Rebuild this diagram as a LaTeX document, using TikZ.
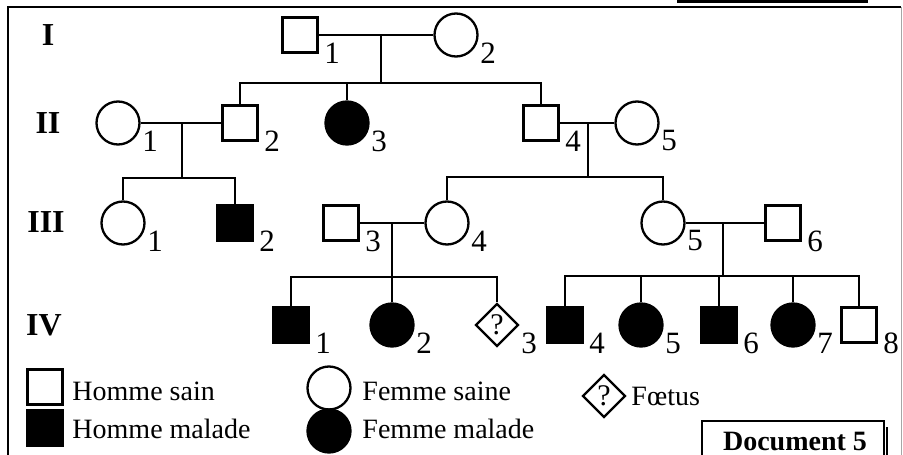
\documentclass[tikz,border=0pt]{standalone}
\usepackage{fontspec}
\setmainfont{Liberation Serif}
\usetikzlibrary{shapes.geometric,positioning,calc}

\tikzset{
    male/.style={draw, rectangle, minimum size=35pt, inner sep=0pt},
    female/.style={draw, circle, minimum size=43pt, inner sep=0pt},
    fetus/.style={draw, diamond, minimum size=43pt, inner sep=0pt, font=\fontsize{30}{32}\selectfont},
    ill/.style={fill=black},
    num/.style={xshift=32pt, yshift=-18pt, font=\fontsize{31}{33}\selectfont},
    gen/.style={font=\fontsize{32}{34}\selectfont\bfseries},
}

\begin{document}
\begin{tikzpicture}[x=1pt, y=-1pt, line width=2.3pt, font=\fontsize{28}{30}\selectfont]
    \useasboundingbox (0,0) rectangle (903,455);
    % Frame
    \fill (677,0) rectangle (868,3);
    \draw[line width=2.5pt] (8,455) -- (8,7) -- (901,7);
    \draw[line width=0.8pt, black!35] (901,7) -- (901,455);

    % Generations
    \node[gen] (gI) at (48,35) {I};
    \node[gen] (gII) at (48,123) {II};
    \node[gen] (gIII) at (46,222) {III};
    \node[gen] (gIV) at (44,325) {IV};

    % I
    \node[male, label={[num]center:1}] (I1) at (300,35) {};
    \node[female, label={[num]center:2}] (I2) at (456,35) {};
    \draw (I1) -- (I2);
    \coordinate (c1) at (381,35); \coordinate (s1) at (381,83);

    % II
    \node[female, label={[num]center:1}] (II1) at (118,123) {};
    \node[male, label={[num]center:2}] (II2) at (240,123) {};
    \node[female, ill, label={[num]center:3}] (II3) at (347,123) {};
    \node[male, label={[num]center:4}] (II4) at (541,123) {};
    \node[female, label={[num]center:5}] (II5) at (637,123) {};
    \draw (c1) -- (s1);
    \draw (II2.north) |- (s1) -| (II4.north);
    \draw (II3) -- (II3 |- s1);
    \draw (II1) -- (II2); \draw (II4) -- (II5);
    \coordinate (c2) at (182,123); \coordinate (s2) at (182,178);
    \coordinate (c3) at (588,123); \coordinate (s3) at (588,177);

    % III
    \node[female, label={[num]center:1}] (III1) at (123,223) {};
    \node[male, ill, label={[num]center:2}] (III2) at (235,223) {};
    \node[male, label={[num]center:3}] (III3) at (341,223) {};
    \node[female, label={[num]center:4}] (III4) at (447,223) {};
    \node[female, label={[num]center:5}] (III5) at (663,223) {};
    \node[male, label={[num]center:6}] (III6) at (783,223) {};
    \draw (c2) -- (s2); \draw (III1.north) |- (s2) -| (III2.north);
    \draw (c3) -- (s3); \draw (III4.north) |- (s3) -| (III5.north);
    \draw (III3) -- (III4); \draw (III5) -- (III6);
    \coordinate (c4) at (392,223); \coordinate (s4) at (392,277);
    \coordinate (c5) at (723,223); \coordinate (s5) at (723,276);

    % IV
    \node[male, ill, label={[num]center:1}] (IV1) at (291,325) {};
    \node[female, ill, label={[num]center:2}] (IV2) at (392,325) {};
    \node[fetus, label={[num]center:3}] (IV3) at (497,325) {?};
    \node[male, ill, label={[num]center:4}] (IV4) at (565,325) {};
    \node[female, ill, label={[num]center:5}] (IV5) at (641,325) {};
    \node[male, ill, label={[num]center:6}] (IV6) at (719,325) {};
    \node[female, ill, label={[num]center:7}] (IV7) at (793,325) {};
    \node[male, label={[num]center:8}] (IV8) at (859,325) {};
    \draw (c4) -- (s4); \draw (IV1.north) |- (s4) -| (IV3.north);
    \draw (IV2) -- (IV2 |- s4);
    \draw (c5) -- (s5); \draw (IV4.north) |- (s5) -| (IV8.north);
    \foreach \k in {IV5,IV6,IV7} \draw (\k) -- (\k |- s5);

    % Legend
    \node[male] (k1) at (45,387) {};
    \node[male, ill] (k2) at (45,428) {};
    \node[female] (k3) at (329,388) {};
    \node[female, ill] (k4) at (329,431) {};
    \node[fetus] (k5) at (604,396) {?};
    \node[anchor=base west] (t1) at (68,400) {Homme sain};
    \node[anchor=base west] (t2) at (68,438) {Homme malade};
    \node[anchor=base west] (t3) at (358,400) {Femme saine};
    \node[anchor=base west] (t4) at (358,438) {Femme malade};
    \node[anchor=base west] (t5) at (627,405) {Fœtus};

    % Document
    \draw (702,470) -- (702,421) -- (884,421) -- (884,470);
    \draw[line width=2.5pt] (887,427) -- (887,470);
    \node[font=\fontsize{28}{30}\selectfont\bfseries, anchor=base, inner sep=1pt] (doc) at (795,450) {Document 5};
\end{tikzpicture}
\end{document}
